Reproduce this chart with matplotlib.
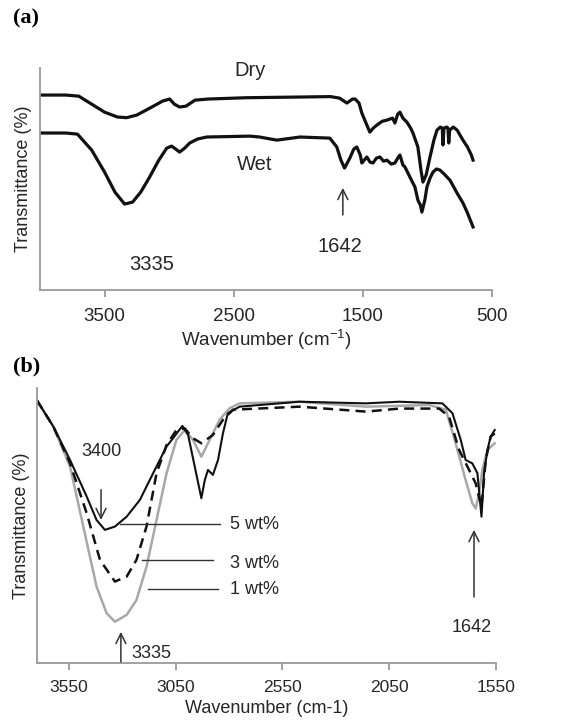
import matplotlib
matplotlib.use('Agg')
from matplotlib import pyplot as plt

plt.rcParams['font.family'] = ['Liberation Sans', 'DejaVu Sans']
plt.rcParams['mathtext.default'] = 'regular'

# ---- panel (a): dry / wet film spectra ----
wn_dry = [4000, 3800, 3700, 3600, 3500, 3400, 3330, 3250, 3150, 3050, 2996, 2960,
          2919, 2870, 2800, 2700, 2400, 2000, 1750, 1680, 1624, 1580, 1560, 1530,
          1508, 1480, 1446, 1420, 1391, 1350, 1314, 1270, 1252, 1230, 1213, 1190,
          1159, 1130, 1112, 1074, 1050, 1035, 1010, 980, 950, 926, 900, 885, 880,
          872, 850, 841, 835, 828, 800, 770, 725, 690, 660, 647]
t_dry = [87.8, 87.8, 87.3, 83.7, 80.1, 77.9, 77.6, 78.8, 81.9, 85.1, 86.0, 83.7,
         82.4, 82.8, 85.5, 86.0, 86.6, 86.9, 87.1, 86.4, 84.2, 86.0, 86.0, 84.2,
         79.7, 75.8, 71.1, 72.9, 74.3, 76.0, 76.5, 77.4, 75.2, 79.2, 80.1, 77.4,
         75.6, 72.9, 70.7, 64.4, 54.0, 48.6, 51.8, 59.9, 67.5, 72.0, 73.4, 72.9, 65.3,
         72.9, 73.4, 72.9, 66.2, 72.0, 73.4, 72.0, 67.5, 64.4, 60.8, 58.5]

wn_wet = [4000, 3800, 3710, 3600, 3500, 3420, 3345, 3283, 3220, 3151, 3080, 3019,
          2981, 2950, 2919, 2880, 2841, 2780, 2709, 2376, 2300, 2167, 2050, 1988,
          1756, 1702, 1670, 1642, 1601, 1570, 1547, 1520, 1508, 1469, 1445, 1422,
          1395, 1368, 1340, 1314, 1280, 1252, 1230, 1213, 1190, 1174, 1136, 1097,
          1074, 1055, 1043, 1020, 1004, 980, 957, 930, 903, 870, 826, 800, 771,
          725, 690, 647]
t_wet = [70.7, 70.7, 70.2, 63.0, 53.1, 44.1, 38.7, 39.6, 44.1, 50.9, 58.5, 63.9,
         64.8, 63.5, 62.1, 63.9, 66.2, 68.0, 68.9, 69.3, 68.9, 67.5, 68.4, 68.9,
         68.4, 64.4, 58.5, 54.9, 59.4, 63.5, 64.4, 60.8, 57.2, 59.9, 57.6, 57.2,
         59.4, 59.9, 58.0, 58.5, 56.7, 57.2, 59.4, 60.8, 56.3, 55.4, 50.9, 46.4,
         40.5, 38.3, 35.1, 40.5, 46.4, 50.4, 53.1, 54.5, 54.0, 52.2, 49.5, 46.8,
         43.7, 39.2, 34.7, 28.4]

ticks_a = [3500, 2500, 1500, 500]

# ---- panel (b): 1, 3, 5 wt% ----
wn_5 = [3701, 3623, 3545, 3467, 3421, 3382, 3335, 3280, 3218, 3156, 3093, 3063,
        3019, 2992, 2961, 2930, 2914, 2899, 2876, 2852, 2829, 2806, 2751, 2471,
        2159, 2003, 1801, 1754, 1715, 1692, 1661, 1637, 1618, 1606, 1590, 1575, 1556]
t_5 = [95.6, 85.9, 73.8, 60.5, 52.0, 48.4, 49.6, 53.2, 59.3, 69.0, 78.7, 81.7,
       86.2, 82.9, 71.4, 59.9, 66.5, 70.2, 68.4, 73.8, 83.5, 90.8, 93.2, 95.0,
       94.4, 95.0, 94.4, 90.8, 81.1, 73.8, 72.6, 69.0, 53.2, 69.0, 77.5, 82.3, 84.7]

wn_3 = [3701, 3623, 3545, 3467, 3405, 3335, 3280, 3234, 3187, 3140, 3093, 3047,
        3008, 2969, 2930, 2876, 2829, 2782, 2471, 2159, 2003, 1816, 1770, 1723,
        1676, 1645, 1618, 1598, 1575, 1556]
t_3 = [95.6, 85.9, 72.6, 54.4, 37.5, 29.6, 31.4, 37.5, 49.6, 69.0, 79.3, 84.7,
       85.3, 81.7, 79.9, 82.9, 88.4, 92.1, 93.2, 91.4, 92.5, 92.5, 89.6, 77.5,
       70.2, 65.3, 56.8, 73.8, 82.3, 83.5]

wn_1 = [3701, 3623, 3545, 3483, 3421, 3374, 3335, 3280, 3234, 3187, 3140, 3093,
        3047, 3008, 2969, 2930, 2899, 2845, 2798, 2751, 2471, 2159, 1863, 1785,
        1739, 1692, 1661, 1645, 1629, 1614, 1590, 1556]
t_1 = [95.6, 85.9, 71.4, 49.6, 27.8, 18.1, 15.0, 17.5, 22.9, 35.0, 52.0, 69.0,
       81.1, 84.7, 81.1, 75.0, 79.9, 88.4, 92.6, 94.4, 95.0, 93.2, 93.8, 92.1,
       79.9, 66.5, 58.1, 56.2, 61.7, 70.2, 77.5, 79.9]

ticks_b = [3550, 3050, 2550, 2050, 1550]

fig = plt.figure(figsize=(5.86, 7.23), dpi=100)
ax_a = fig.add_axes([0.0683, 0.5989, 0.7713, 0.3071])
ax_b = fig.add_axes([0.0631, 0.083, 0.7833, 0.3804])

txt = '#262626'
for ax in (ax_a, ax_b):
    for s in ('top', 'right'):
        ax.spines[s].set_visible(False)
    for s in ('left', 'bottom'):
        ax.spines[s].set_color('#9a9a9a')
        ax.spines[s].set_linewidth(1.3)
    ax.set_yticks([])
    ax.tick_params(axis='x', direction='out', length=5, width=1.3,
                   color='#9a9a9a', labelcolor=txt)

# (a)
ax_a.plot(wn_dry, t_dry, color='#111111', lw=2.3)
ax_a.plot(wn_wet, t_wet, color='#111111', lw=2.3)
ax_a.set_xlim(4000, 500)
ax_a.set_ylim(0, 100)
ax_a.set_xticks(ticks_a)
ax_a.tick_params(axis='x', labelsize=13.5, pad=8)
ax_a.set_xlabel('Wavenumber (cm$^{-1}$)', fontsize=13.5, color=txt, labelpad=2)
ax_a.set_ylabel('Transmittance (%)', fontsize=13, color=txt, labelpad=6)
ax_a.text(2376, 99, 'Dry', fontsize=14.5, color=txt, ha='center', va='center')
ax_a.text(2337, 56.3, 'Wet', fontsize=14.5, color=txt, ha='center', va='center')
ax_a.text(1678, 19.4, '1642', fontsize=14.5, color=txt, ha='center', va='center')
ax_a.text(3136, 11.3, '3335', fontsize=14.5, color=txt, ha='center', va='center')
ax_a.annotate('', xy=(1655, 46), xytext=(1655, 33.8),
              arrowprops=dict(arrowstyle='->', color='#333333', lw=1.1,
                              mutation_scale=18, shrinkA=0, shrinkB=0))
fig.text(0.022, 0.974, '(a)', family='Liberation Serif', weight='bold',
         fontsize=16, va='center', ha='left')

# (b)
ax_b.plot(wn_1, t_1, color='#a8a8a8', lw=1.8)
ax_b.plot(wn_3, t_3, color='#111111', lw=1.8, ls=(0, (4, 2.5)))
ax_b.plot(wn_5, t_5, color='#111111', lw=1.5)
ax_b.set_xlim(3700, 1550)
ax_b.set_ylim(0, 100)
ax_b.set_xticks(ticks_b)
ax_b.tick_params(axis='x', labelsize=12.5, pad=7)
ax_b.set_xlabel('Wavenumber (cm-1)', fontsize=13, color=txt, labelpad=4)
ax_b.set_ylabel('Transmittance (%)', fontsize=13, color=txt, labelpad=5)

lk = dict(color='#333333', lw=1.0)
ax_b.plot([3312, 2844], [50.5, 50.5], **lk)
ax_b.plot([3209, 2877], [37.5, 37.5], **lk)
ax_b.plot([3181, 2854], [26.9, 26.9], **lk)
ax_b.text(2795, 50.5, '5 wt%', fontsize=13, color=txt, ha='left', va='center')
ax_b.text(2795, 36.0, '3 wt%', fontsize=13, color=txt, ha='left', va='center')
ax_b.text(2795, 26.9, '1 wt%', fontsize=13, color=txt, ha='left', va='center')
ax_b.text(3400, 77, '3400', fontsize=13, color=txt, ha='center', va='center')
ax_b.text(3165, 3.6, '3335', fontsize=13, color=txt, ha='center', va='center')
ax_b.text(1665, 13, '1642', fontsize=13, color=txt, ha='center', va='center')
ak = dict(arrowstyle='->', color='#333333', lw=1.1, mutation_scale=18,
          shrinkA=0, shrinkB=0)
ax_b.annotate('', xy=(3400, 52), xytext=(3400, 63), arrowprops=ak)
ax_b.annotate('', xy=(3307, 11.3), xytext=(3307, 0.4), arrowprops=ak)
ax_b.annotate('', xy=(1653, 48.4), xytext=(1653, 24), arrowprops=ak)
fig.text(0.022, 0.493, '(b)', family='Liberation Serif', weight='bold',
         fontsize=16, va='center', ha='left')

fig.savefig('out.png', dpi=100)
